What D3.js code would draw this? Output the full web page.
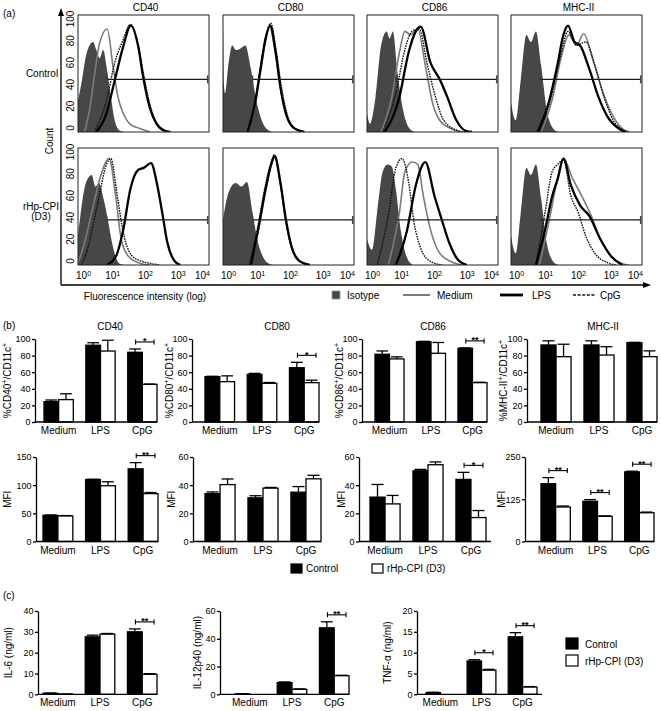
<!DOCTYPE html>
<html>
<head>
<meta charset="utf-8">
<script src="https://cdn.jsdelivr.net/npm/d3@7"></script>
<style>
  body { margin: 0; background: #fff; }
  svg { display: block; font-family: "Liberation Sans", Arial, Helvetica, sans-serif; }
</style>
</head>
<body>
<svg id="fig" width="661" height="711"></svg>
<script>
// ---- panel (a) data: flow histograms, [log10 fluorescence, % of max count]
const markers = ["CD40", "CD80", "CD86", "MHC-II"];
const decades = [0, 1, 2, 3, 4];
const countTicks = [0, 20, 40, 60, 80, 100];
const histLegend = ["Isotype", "Medium", "LPS", "CpG"];

const cd40Ctrl = {
  iso: [[0,27],[0.1,41],[0.26,67],[0.46,77],[0.56,70],[0.66,63],[0.77,70],[0.87,56],[1.02,27],[1.12,10],[1.28,1],[1.4,0]],
  med: [[0.2,0],[0.36,20],[0.51,50],[0.66,76],[0.89,88],[1.07,56],[1.22,30],[1.38,16],[1.58,7],[1.89,3],[2.2,0]],
  lps: [[0.56,0],[0.87,16],[1.12,44],[1.38,73],[1.61,91],[1.84,73],[1.99,47],[2.19,21],[2.4,7],[2.65,1],[2.8,0]],
  cpg: [[0.5,0],[0.87,27],[1.12,59],[1.38,79],[1.6,92],[1.84,74],[1.99,51],[2.2,23],[2.42,7],[2.7,1],[2.85,0]]
};
const cd80Ctrl = {
  iso: [[0,97],[0.03,40],[0.06,33],[0.17,59],[0.28,74],[0.4,70],[0.51,71],[0.68,74],[0.85,54],[1.01,28],[1.18,10],[1.41,1],[1.5,0]],
  med: [[0.7,0],[0.96,20],[1.13,49],[1.3,78],[1.42,90],[1.6,67],[1.75,38],[1.92,15],[2.14,4],[2.48,0]],
  lps: [[0.75,0],[0.96,22],[1.13,51],[1.3,80],[1.44,91],[1.61,68],[1.75,39],[1.92,16],[2.14,4],[2.48,0]],
  cpg: [[0.72,0],[0.96,24],[1.13,53],[1.3,81],[1.46,93],[1.62,70],[1.77,41],[1.94,17],[2.16,4],[2.5,0]]
};
const cd86Ctrl = {
  iso: [[0,16],[0.09,7],[0.26,30],[0.43,74],[0.6,86],[0.69,80],[0.79,86],[0.93,51],[1.1,19],[1.27,4],[1.45,0]],
  med: [[0.43,0],[0.76,30],[0.99,68],[1.16,86],[1.33,83],[1.55,88],[1.78,57],[2.0,25],[2.22,10],[2.56,3],[2.9,0]],
  lps: [[0.54,0],[0.99,30],[1.27,68],[1.49,86],[1.64,90],[1.94,59],[2.22,45],[2.45,30],[2.73,10],[3.01,1],[3.2,0]],
  cpg: [[0.48,0],[0.88,33],[1.16,71],[1.38,86],[1.6,88],[1.83,59],[2.11,28],[2.34,10],[2.79,1],[3.0,0]]
};
const mhcCtrl = {
  iso: [[0,25],[0.14,10],[0.3,45],[0.47,83],[0.61,77],[0.76,86],[0.92,57],[1.09,19],[1.26,4],[1.43,0]],
  med: [[0.92,0],[1.26,28],[1.54,65],[1.77,83],[2.0,74],[2.22,84],[2.5,62],[2.78,36],[3.07,16],[3.4,3],[3.6,0]],
  lps: [[0.81,0],[1.15,25],[1.43,59],[1.6,83],[1.74,91],[1.94,77],[2.11,74],[2.39,54],[2.67,30],[2.95,13],[3.29,3],[3.5,0]],
  cpg: [[0.87,0],[1.21,28],[1.49,62],[1.74,86],[2.0,74],[2.28,77],[2.56,57],[2.84,30],[3.12,10],[3.4,2],[3.6,0]]
};
const cd40D3 = {
  iso: [[0,25],[0.25,71],[0.42,77],[0.53,67],[0.64,70],[0.76,59],[0.93,36],[1.04,19],[1.15,7],[1.27,1],[1.4,0]],
  med: [[0,2],[0.14,13],[0.42,45],[0.7,77],[0.95,91],[1.15,59],[1.32,22],[1.55,7],[1.94,1],[2.2,0]],
  lps: [[0.87,0],[1.15,7],[1.38,30],[1.6,65],[1.83,81],[2.0,83],[2.23,87],[2.4,71],[2.57,45],[2.73,19],[2.96,3],[3.13,0]],
  cpg: [[0.1,0],[0.25,10],[0.59,51],[0.87,86],[1.0,91],[1.2,59],[1.38,28],[1.72,6],[2.28,1],[2.5,0]]
};
const cd80D3 = {
  iso: [[0,39],[0.17,62],[0.39,70],[0.56,67],[0.73,71],[0.9,45],[1.07,19],[1.24,6],[1.41,1],[1.55,0]],
  med: [[0.82,0],[1.07,28],[1.3,63],[1.47,85],[1.57,92],[1.75,70],[1.92,38],[2.09,16],[2.31,4],[2.65,0]],
  lps: [[0.85,0],[1.07,30],[1.3,65],[1.47,86],[1.58,93],[1.75,71],[1.92,39],[2.09,16],[2.31,4],[2.65,0]],
  cpg: [[0.8,0],[1.05,31],[1.28,66],[1.46,87],[1.56,94],[1.74,72],[1.9,40],[2.07,17],[2.3,4],[2.65,0]]
};
const cd86D3 = {
  iso: [[0,22],[0.15,13],[0.31,45],[0.48,80],[0.63,86],[0.76,84],[0.88,65],[1.04,28],[1.21,7],[1.4,0]],
  med: [[0.65,0],[0.99,45],[1.16,80],[1.38,88],[1.55,86],[1.72,59],[1.94,30],[2.22,10],[2.56,3],[2.9,0]],
  lps: [[0.88,0],[1.21,28],[1.49,68],[1.78,88],[2.06,59],[2.28,39],[2.51,19],[2.79,4],[3.05,0]],
  cpg: [[0.31,0],[0.65,42],[0.88,83],[1.07,91],[1.27,71],[1.44,36],[1.66,13],[1.94,3],[2.3,0]]
};
const mhcD3 = {
  iso: [[0,25],[0.14,10],[0.3,45],[0.47,83],[0.61,77],[0.76,86],[0.92,57],[1.09,19],[1.26,4],[1.43,0]],
  med: [[0.87,0],[1.15,36],[1.38,68],[1.6,91],[1.88,74],[2.16,59],[2.45,42],[2.73,22],[3.07,7],[3.4,1],[3.6,0]],
  lps: [[0.76,0],[1.04,30],[1.26,59],[1.43,74],[1.6,91],[1.83,68],[2.11,51],[2.39,42],[2.73,22],[3.07,7],[3.4,0]],
  cpg: [[0.76,0],[1.04,45],[1.26,80],[1.43,86],[1.6,90],[1.83,59],[2.05,45],[2.28,25],[2.56,10],[2.95,2],[3.2,0]]
};
const gateStart = [0.87, 0.9, 0.88, 0.87];
const gateLevel = [45, 38.5];

// ---- panel (b) and (c) data: [mean, SEM]
const treatments = ["Medium", "LPS", "CpG"];
const pctCD40Ctrl = [[24.5, 2], [92.5, 3], [84, 4]];
const pctCD40D3   = [[27, 7], [85.5, 13], [45.4, 0.3]];
const pctCD80Ctrl = [[54.6, 0.5], [57.4, 1.2], [65.4, 6.5]];
const pctCD80D3   = [[48.6, 7], [46.6, 1], [47.4, 3]];
const pctCD86Ctrl = [[81.6, 4], [96.7, 0.5], [88.8, 0.5]];
const pctCD86D3   = [[76, 2.5], [82.8, 13], [47.4, 0.5]];
const pctMHCCtrl  = [[92.8, 5], [92.8, 5], [95.5, 0.5]];
const pctMHCD3    = [[78.7, 15], [80.7, 10], [78.7, 7]];
const mfiCD40Ctrl = [[46.5, 0.5], [110, 0.5], [129, 11]];
const mfiCD40D3   = [[45.5, 0.5], [99, 7], [85, 2]];
const mfiCD80Ctrl = [[34, 1.2], [31, 1.5], [35, 4]];
const mfiCD80D3   = [[40.4, 4], [37.9, 0.5], [44.5, 2.5]];
const mfiCD86Ctrl = [[31.5, 9], [50.2, 1], [44.1, 5]];
const mfiCD86D3   = [[26.7, 6], [54.5, 2], [17, 5]];
const mfiMHCCtrl  = [[171, 18], [119, 5], [206, 2]];
const mfiMHCD3    = [[102, 3], [74.4, 1.5], [85, 2]];
const il6Ctrl  = [[0.5, 0.1], [27.6, 0.8], [30, 1.4]];
const il6D3    = [[0.2, 0], [28.9, 0.3], [9.6, 0.3]];
const il12Ctrl = [[0.3, 0.1], [8.4, 0.5], [47.9, 4.3]];
const il12D3   = [[0, 0], [3.6, 0.3], [13.4, 0.3]];
const tnfCtrl  = [[0.4, 0.1], [8, 0.3], [13.8, 1]];
const tnfD3    = [[0, 0], [5.8, 0.2], [1.75, 0.1]];
// significance: [treatment index, stars]
const sigPctCD40 = [[2, "*"]], sigPctCD80 = [[2, "*"]], sigPctCD86 = [[2, "**"]], sigPctMHC = [];
const sigMfiCD40 = [[2, "**"]], sigMfiCD80 = [], sigMfiCD86 = [[2, "*"]], sigMfiMHC = [[0, "**"], [1, "**"], [2, "**"]];
const sigIL6 = [[2, "**"]], sigIL12 = [[2, "**"]], sigTNF = [[1, "*"], [2, "**"]];
const groupLegend = ["Control", "rHp-CPI (D3)"];

const svg = d3.select("#fig");

function rich(sel, parts, size = 10) {
  let up = false;
  parts.forEach(([s, sup]) => {
    sel.append("tspan").attr("font-size", sup ? size * 0.7 : size)
      .attr("dy", sup ? (up ? 0 : -size * 0.35) : (up ? size * 0.35 : 0)).text(s);
    up = !!sup;
  });
  return sel;
}
function label(x, y, s, anchor = "start", size = 10) {
  return svg.append("text").attr("x", x).attr("y", y).attr("font-size", size)
    .attr("text-anchor", anchor).attr("fill", "#000").text(s);
}

// ================= panel (a) =================
const histX = [78, 223, 367, 511], histW = 131;
const histY = [15, 148], histH = 117;
const histRows = [[cd40Ctrl, cd80Ctrl, cd86Ctrl, mhcCtrl], [cd40D3, cd80D3, cd86D3, mhcD3]];
const lineStyle = {
  med: { stroke: "#7b7b7b", w: 1.6, dash: null },
  cpg: { stroke: "#111", w: 1.4, dash: "1.6,1" },
  lps: { stroke: "#000", w: 2.3, dash: null }
};

histRows.forEach((row, r) => row.forEach((h, c) => {
  const x = d3.scaleLinear().domain([0, 4]).range([histX[c], histX[c] + histW]);
  const y = d3.scaleLinear().domain([0, 100]).range([histY[r] + histH, histY[r]]);
  const id = "clip" + r + c;
  svg.append("clipPath").attr("id", id).append("rect")
    .attr("x", x(0)).attr("y", y(100)).attr("width", histW).attr("height", histH);
  const g = svg.append("g").attr("clip-path", `url(#${id})`);
  g.append("path").datum(h.iso)
    .attr("d", d3.area().x(d => x(d[0])).y0(y(0)).y1(d => y(d[1])).curve(d3.curveMonotoneX))
    .attr("fill", "#474747");
  ["med", "cpg", "lps"].forEach(k => {
    const st = lineStyle[k];
    g.append("path").datum(h[k])
      .attr("d", d3.line().x(d => x(d[0])).y(d => y(d[1])).curve(d3.curveMonotoneX))
      .attr("fill", "none").attr("stroke", st.stroke).attr("stroke-width", st.w)
      .attr("stroke-dasharray", st.dash).attr("stroke-linejoin", "round");
  });
  // marker gate
  const gy = y(gateLevel[r]), g0 = x(gateStart[c]), g1 = x(3.96);
  g.append("line").attr("x1", g0).attr("x2", g1).attr("y1", gy).attr("y2", gy)
    .attr("stroke", "#1a1a1a").attr("stroke-width", 1.3);
  [g0, g1].forEach(gx => g.append("line").attr("x1", gx).attr("x2", gx)
    .attr("y1", gy - 4).attr("y2", gy + 4).attr("stroke", "#444").attr("stroke-width", 1.5));
  svg.append("rect").attr("x", x(0)).attr("y", y(100)).attr("width", histW).attr("height", histH)
    .attr("fill", "none").attr("stroke", "#222").attr("stroke-width", 1);

  // count tick labels (rotated)
  if (c === 0) {
    const yl = d3.scaleLinear().domain([0, 100]).range([histY[r] + histH - 4, histY[r] + 4]);
    countTicks.forEach(v => svg.append("text")
      .attr("transform", `translate(70,${yl(v)}) rotate(-90)`)
      .attr("text-anchor", "middle").attr("dominant-baseline", "central")
      .attr("font-size", 10).text(v));
  }
  if (r === 0) label(x(2) + 2, 11, markers[c], "middle");
  if (r === 1) {
    decades.forEach(k => {
      const anchor = k === 0 ? "start" : k === 4 ? "end" : "middle";
      const tx = k === 0 ? x(k) - 2 : k === 4 ? x(k) + 1 : x(k) + 2;
      rich(svg.append("text").attr("x", tx).attr("y", 279).attr("text-anchor", anchor),
        [["10"], [String(k), 1]]);
    });
  }
}));

// axes with arrows
svg.append("line").attr("x1", 61).attr("x2", 61).attr("y1", 285).attr("y2", 14)
  .attr("stroke", "#000").attr("stroke-width", 1.3);
svg.append("path").attr("d", "M61,8L58,16L64,16Z").attr("fill", "#000");
svg.append("line").attr("x1", 61).attr("x2", 644).attr("y1", 285).attr("y2", 285)
  .attr("stroke", "#000").attr("stroke-width", 1.3);
svg.append("path").attr("d", "M651,285L643,282L643,288Z").attr("fill", "#000");
svg.append("text").attr("transform", "translate(53,141) rotate(-90)")
  .attr("text-anchor", "middle").attr("font-size", 10).text("Count");
label(3, 17, "(a)");
label(42, 76.5, "Control", "middle");
label(41, 210, "rHp-CPI", "middle");
label(41, 219.5, "(D3)", "middle");
label(145, 299.5, "Fluorescence intensity (log)", "middle");

// legend (a)
svg.append("rect").attr("x", 332).attr("y", 291).attr("width", 8).attr("height", 8)
  .attr("fill", "#474747").attr("stroke", "#999").attr("stroke-width", 0.8);
label(347, 298.5, histLegend[0]);
[["med", 403, 430, 437], ["lps", 500, 523, 532], ["cpg", 573, 595, 600]].forEach(([k, a, b, t], i) => {
  const st = lineStyle[k];
  svg.append("line").attr("x1", a).attr("x2", b).attr("y1", 295).attr("y2", 295)
    .attr("stroke", st.stroke).attr("stroke-width", k === "lps" ? 2.8 : k === "cpg" ? 1.6 : 2)
    .attr("stroke-dasharray", k === "cpg" ? "3,1.6" : null);
  label(t, 298.5, histLegend[i + 1]);
});

// ================= bar charts =================
function barChart(cfg) {
  const g = svg.append("g");
  const x = d3.scaleBand().domain(treatments).range([cfg.xs, cfg.xe]).paddingInner(0.3);
  const sub = d3.scaleBand().domain(["ctrl", "d3"]).range([0, x.bandwidth()]);
  const y = d3.scaleLinear().domain([0, cfg.max]).range([cfg.yb, cfg.yt]);
  const bw = sub.bandwidth();
  const series = [["ctrl", cfg.ctrl, "#000"], ["d3", cfg.d3, "#fff"]];

  series.forEach(([k, vals, fill]) => {
    g.selectAll(null).data(vals).join("rect")
      .attr("x", (d, i) => x(treatments[i]) + sub(k)).attr("width", bw)
      .attr("y", d => y(d[0])).attr("height", d => y(0) - y(d[0]))
      .attr("fill", fill).attr("stroke", d => d[0] > 0 ? "#000" : "none").attr("stroke-width", 1.3);
    vals.forEach((d, i) => {
      if (d[1] <= 0.15 * cfg.max / 100) return;
      const cx = x(treatments[i]) + sub(k) + bw / 2;
      g.append("line").attr("x1", cx).attr("x2", cx).attr("y1", y(d[0])).attr("y2", y(d[0] + d[1]))
        .attr("stroke", "#000").attr("stroke-width", 1.3);
      g.append("line").attr("x1", cx - bw * 0.4).attr("x2", cx + bw * 0.4)
        .attr("y1", y(d[0] + d[1])).attr("y2", y(d[0] + d[1]))
        .attr("stroke", "#000").attr("stroke-width", 1.3);
    });
  });

  const ya = g.append("g").attr("transform", `translate(${cfg.x0},0)`)
    .call(d3.axisLeft(y).tickValues(cfg.ticks).tickSize(3).tickSizeOuter(0).tickPadding(1.5));
  ya.selectAll("path,line").attr("stroke", "#000").attr("stroke-width", 1.3);
  ya.selectAll("text").attr("font-size", 9).attr("fill", "#000");
  ya.attr("font-family", null).attr("font-size", null);

  g.append("line").attr("x1", cfg.x0).attr("x2", cfg.xe + (cfg.xpad || 0))
    .attr("y1", cfg.yb).attr("y2", cfg.yb).attr("stroke", "#000").attr("stroke-width", 1.3);
  const xa = g.append("g").attr("transform", `translate(0,${cfg.yb})`)
    .call(d3.axisBottom(x).tickSize(0).tickPadding(5));
  xa.select(".domain").remove();
  xa.selectAll("text").attr("font-size", 10).attr("fill", "#000");
  xa.attr("font-family", null).attr("font-size", null);

  rich(g.append("text").attr("transform", `translate(${cfg.lx},${(cfg.yt + cfg.yb) / 2}) rotate(-90)`)
    .attr("text-anchor", "middle").attr("dominant-baseline", "central"), cfg.label);

  cfg.sig.forEach(([i, stars]) => {
    const gx = x(treatments[i]), gw = x.bandwidth();
    const top = Math.max(cfg.ctrl[i][0] + cfg.ctrl[i][1], cfg.d3[i][0] + cfg.d3[i][1]);
    const by = y(top) - 7, a = gx + gw * 0.27, b = gx + gw * 0.9;
    g.append("line").attr("x1", a).attr("x2", b).attr("y1", by).attr("y2", by)
      .attr("stroke", "#000").attr("stroke-width", 1.1);
    [a, b].forEach(e => g.append("line").attr("x1", e).attr("x2", e).attr("y1", by - 2.5).attr("y2", by + 2.5)
      .attr("stroke", "#000").attr("stroke-width", 1.1));
    g.append("text").attr("x", (a + b) / 2).attr("y", by + 2.5).attr("text-anchor", "middle")
      .attr("font-size", 9).attr("font-weight", "bold").text(stars);
  });
  if (cfg.title) label(cfg.tx, 329.5, cfg.title, "middle");
}

const pct = t => [["%" + t], ["+", 1], ["/CD11c"], ["+", 1]];
const mfi = [["MFI"]];
const pctTicks = [0, 20, 40, 60, 80, 100];
const r1 = { yt: 339, yb: 422, max: 100, ticks: pctTicks };
const r2 = { yt: 457, yb: 541.5 };
const r3 = { yt: 611, yb: 694.3 };

[
  { ...r1, ctrl: pctCD40Ctrl, d3: pctCD40D3, sig: sigPctCD40, label: pct("CD40"), x0: 35, xs: 44, xe: 157, lx: 7, title: "CD40", tx: 110 },
  { ...r1, ctrl: pctCD80Ctrl, d3: pctCD80D3, sig: sigPctCD80, label: pct("CD80"), x0: 192, xs: 205, xe: 319, lx: 169, title: "CD80", tx: 277 },
  { ...r1, ctrl: pctCD86Ctrl, d3: pctCD86D3, sig: sigPctCD86, label: pct("CD86"), x0: 362, xs: 375, xe: 487, lx: 339, title: "CD86", tx: 433 },
  { ...r1, ctrl: pctMHCCtrl, d3: pctMHCD3, sig: sigPctMHC, label: pct("MHC-II"), x0: 527, xs: 541, xe: 657, lx: 503, title: "MHC-II", tx: 603 },
  { ...r2, max: 150, ticks: [0, 50, 100, 150], ctrl: mfiCD40Ctrl, d3: mfiCD40D3, sig: sigMfiCD40, label: mfi, x0: 36, xs: 43, xe: 158, lx: 7 },
  { ...r2, max: 60, ticks: [0, 20, 40, 60], ctrl: mfiCD80Ctrl, d3: mfiCD80D3, sig: sigMfiCD80, label: mfi, x0: 193, xs: 205, xe: 321, lx: 171 },
  { ...r2, max: 60, ticks: [0, 20, 40, 60], ctrl: mfiCD86Ctrl, d3: mfiCD86D3, sig: sigMfiCD86, label: mfi, x0: 359, xs: 370, xe: 486, lx: 341, xpad: 5 },
  { ...r2, max: 250, ticks: [0, 125, 250], ctrl: mfiMHCCtrl, d3: mfiMHCD3, sig: sigMfiMHC, label: mfi, x0: 525, xs: 541, xe: 654, lx: 501 },
  { ...r3, max: 40, ticks: [0, 10, 20, 30, 40], ctrl: il6Ctrl, d3: il6D3, sig: sigIL6, label: [["IL-6 (ng/ml)"]], x0: 38, xs: 43, xe: 157, lx: 8 },
  { ...r3, max: 60, ticks: [0, 20, 40, 60], ctrl: il12Ctrl, d3: il12D3, sig: sigIL12, label: [["IL-12p40 (ng/ml)"]], x0: 220, xs: 235, xe: 349, lx: 197 },
  { ...r3, max: 20, ticks: [0, 5, 10, 15, 20], ctrl: tnfCtrl, d3: tnfD3, sig: sigTNF, label: [["TNF-α (ng/ml)"]], x0: 417, xs: 426, xe: 537, lx: 387, xpad: 5 }
].forEach(barChart);

label(3, 329, "(b)");
label(3, 599, "(c)");

// group legends
function groupKey(x, y, dx, dy, w, h, tgap) {
  groupLegend.forEach((s, i) => {
    svg.append("rect").attr("x", x + i * dx).attr("y", y + i * dy).attr("width", w).attr("height", h)
      .attr("fill", i ? "#fff" : "#000").attr("stroke", "#000").attr("stroke-width", 1.2);
    label(x + i * dx + w + tgap, y + i * dy + h - 1, s);
  });
}
groupKey(291, 564, 81, 0, 11, 9, 4);
groupKey(566, 638, 0, 17, 12, 11, 7);
</script>
</body>
</html>
